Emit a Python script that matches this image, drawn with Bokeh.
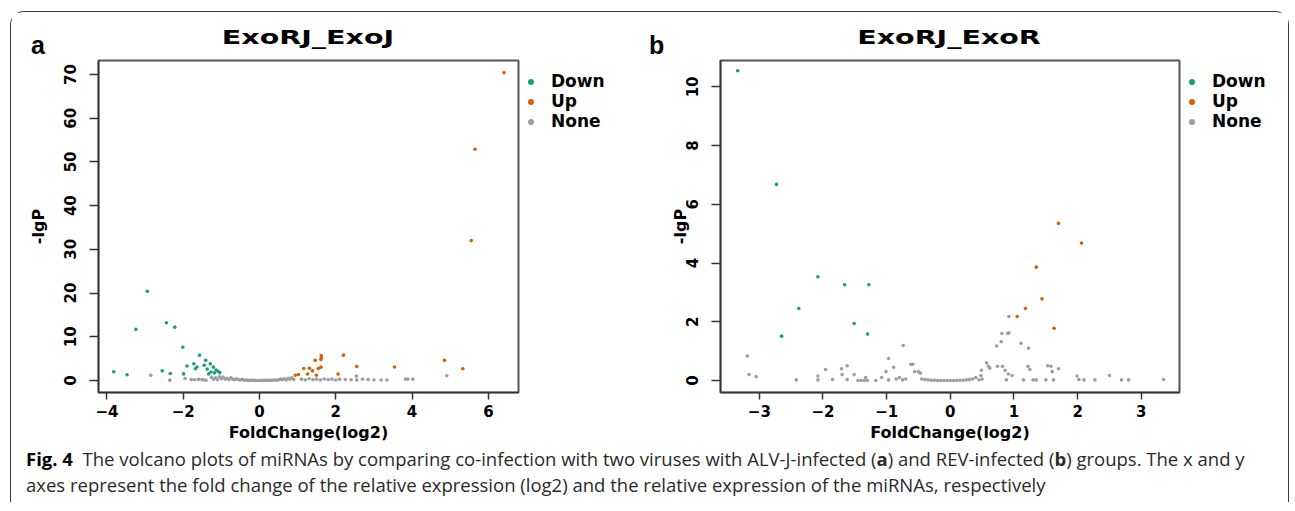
from bokeh.plotting import figure
from bokeh.models import (Range1d, FixedTicker, CustomJSTickFormatter, Legend, LegendItem, Div)
from bokeh.layouts import row, column
from bokeh.embed import file_html
from bokeh.resources import INLINE

# ---------------- data: panel a (ExoRJ_ExoJ) ----------------
a_down_x = [-3.82, -3.47, -3.24, -2.94, -2.55, -2.44, -2.34, -2.22, -2.01, -1.99,
            -1.90, -1.72, -1.68, -1.64, -1.57, -1.45, -1.41, -1.37, -1.33, -1.29,
            -1.27, -1.21, -1.18, -1.14, -1.09, -1.04]
a_down_y = [1.99, 1.3, 11.7, 20.4, 2.2, 13.2, 1.6, 12.2, 7.6, 1.5,
            3.3, 3.8, 2.7, 3.1, 5.8, 3.5, 4.6, 2.6, 1.5, 3.8,
            1.95, 3.05, 1.75, 2.4, 2.1, 1.8]
a_up_x = [0.94, 1.02, 1.16, 1.26, 1.31, 1.39, 1.46, 1.49, 1.54, 1.61,
          1.61, 1.62, 1.62, 2.06, 2.20, 2.55, 3.54, 4.85, 5.33, 5.55,
          5.65, 6.41]
a_up_y = [1.2, 1.37, 2.75, 1.5, 2.8, 2.2, 4.6, 1.2, 2.75, 3.05,
          4.8, 5.7, 5.2, 1.5, 5.8, 3.2, 3.1, 4.6, 2.7, 32.0,
          52.9, 70.4]
a_none_x = [-2.85, -2.35, -1.95, -1.79, -1.70, -1.60, -1.51, -1.45, -1.40,
            -1.26, -1.20, -1.15, -1.10, -1.05, -1.00, -0.95, -0.90, -0.85, -0.80,
            -0.75, -0.70, -0.65, -0.60, -0.55, -0.50, -0.45, -0.40, -0.35, -0.30,
            -0.20, -0.10, 0.00, 0.10, 0.20, 0.30, 0.40, 0.50, 0.55, 0.60,
            0.65, 0.70, 0.75, 0.80, 0.85, 0.90, 1.10, 1.20, 1.30, 1.40,
            1.50, 1.60, 1.70, 1.80, 1.90, 2.00, 2.10, 2.25, 2.40, 2.54,
            2.55, 2.70, 2.85, 3.00, 3.19, 3.34, 3.83, 3.89, 4.02, 4.91,
            -0.25, -0.15, -0.05, 0.05, 0.15, 0.25, 0.35, 0.45]
a_none_y = [1.2, 0.07, 0.45, 0.2, 0.15, 0.25, 0.2, 0.1, 0.05,
            0.7, 0.3, 0.6, 0.2, 0.9, 0.4, 0.8, 0.3, 0.5, 0.2,
            0.6, 0.3, 0.15, 0.4, 0.2, 0.1, 0.25, 0.05, 0.1, 0.02,
            0.05, 0.01, 0.0, 0.02, 0.05, 0.03, 0.1, 0.15, 0.3, 0.2,
            0.4, 0.1, 0.5, 0.3, 0.6, 0.2, 0.3, 0.1, 0.4, 0.2,
            0.3, 0.1, 0.35, 0.2, 0.3, 0.1, 0.3, 0.2, 0.15, 1.0,
            0.1, 0.3, 0.2, 0.1, 0.1, 0.1, 0.3, 0.35, 0.3, 1.07,
            0.03, 0.02, 0.0, 0.01, 0.02, 0.04, 0.06, 0.08]
a_xticks = [-4, -2, 0, 2, 4, 6]
a_yticks = [0, 10, 20, 30, 40, 50, 60, 70]

# ---------------- data: panel b (ExoRJ_ExoR) ----------------
b_down_x = [-3.34, -2.73, -2.65, -2.38, -2.08, -1.66, -1.51, -1.30, -1.28]
b_down_y = [10.55, 6.68, 1.51, 2.45, 3.53, 3.26, 1.94, 1.58, 3.26]
b_up_x = [1.05, 1.18, 1.35, 1.44, 1.63, 1.70, 2.06]
b_up_y = [2.18, 2.45, 3.86, 2.78, 1.78, 5.35, 4.68]
b_none_x = [0.92, 0.81, 0.90, 0.92, 0.80, 0.73, 1.11, 1.23, -0.74, -3.19,
            -3.16, -3.05, -2.42, -2.08, -2.08, -1.96, -1.85, -1.71, -1.70, -1.62,
            -1.62, -1.51, -1.45, -1.40, -1.35, -1.30, -1.33, -1.17, -1.08, -1.01,
            -0.97, -0.97, -0.89, -0.85, -0.80, -0.75, -0.70, -0.62, -0.59, -0.56,
            -0.50, -0.47, -0.45, -0.40, -0.35, -0.30, -0.25, -0.20, -0.15, -0.10,
            -0.05, 0.00, 0.05, 0.10, 0.15, 0.20, 0.25, 0.30, 0.35, 0.40,
            0.45, 0.48, 0.49, 0.57, 0.60, 0.62, 0.50, 0.74, 0.82, 0.86,
            0.91, 0.97, 1.22, 1.25, 0.88, 1.15, 1.30, 1.35, 1.50, 1.53,
            1.62, 1.58, 1.60, 1.70, 1.99, 2.02, 2.10, 2.27, 2.50, 2.69,
            2.80, 3.35]
b_none_y = [2.18, 1.6, 1.6, 1.62, 1.32, 1.17, 1.27, 1.1, 1.19, 0.83,
            0.2, 0.13, 0.02, 0.15, 0.02, 0.37, 0.03, 0.4, 0.2, 0.5,
            0.03, 0.2, 0.0, 0.0, 0.0, 0.0, 0.1, 0.0, 0.1, 0.3,
            0.75, 0.02, 0.45, 0.05, 0.1, 0.02, 0.05, 0.55, 0.55, 0.3,
            0.3, 0.25, 0.05, 0.03, 0.02, 0.01, 0.01, 0.0, 0.0, 0.0,
            0.0, 0.0, 0.0, 0.0, 0.01, 0.01, 0.02, 0.03, 0.05, 0.1,
            0.02, 0.17, 0.35, 0.6, 0.48, 0.42, 0.05, 0.48, 0.48, 0.35,
            0.22, 0.17, 0.48, 0.37, 0.02, 0.02, 0.02, 0.02, 0.02, 0.5,
            0.02, 0.48, 0.3, 0.4, 0.15, 0.03, 0.02, 0.02, 0.17, 0.02,
            0.02, 0.03]
b_xticks = [-3, -2, -1, 0, 1, 2, 3]
b_yticks = [0, 2, 4, 6, 8, 10]

categories = ["Down", "Up", "None"]
colors = {"Down": "#1B9E77", "Up": "#D95F02", "None": "#9E9E9E"}
titles = ["ExoRJ_ExoJ", "ExoRJ_ExoR"]
panel_letters = ["a", "b"]
caption_line1 = ("The volcano plots of miRNAs by comparing co-infection with two viruses with "
                 "ALV-J-infected (<b>a</b>) and REV-infected (<b>b</b>) groups. The x and y")
caption_line2 = ("axes represent the fold change of the relative expression (log2) and the "
                 "relative expression of the miRNAs, respectively")

FONT = "DejaVu Sans"
FIG_H = 434
B_TOP = 48
B_BOTTOM = 54


def panel(xr, yr, xticks, yticks, series, width, b_left, ylab_standoff):
    p = figure(width=width, height=FIG_H,
               min_border_left=b_left, min_border_right=2,
               min_border_top=B_TOP, min_border_bottom=B_BOTTOM,
               x_range=Range1d(*xr), y_range=Range1d(*yr),
               output_backend="svg", toolbar_location=None)
    p.grid.visible = False
    p.outline_line_color = "#555555"
    p.outline_line_width = 2
    p.border_fill_color = "white"
    p.background_fill_color = "white"

    for name in ["None", "Down", "Up"]:
        xs, ys = series[name]
        p.scatter(xs, ys, size=3.6, fill_color=colors[name], line_color=None)

    fmt = CustomJSTickFormatter(code="return tick < 0 ? '\u2212' + Math.abs(tick) : '' + tick;")
    for ax in (p.xaxis[0], p.yaxis[0]):
        ax.axis_line_color = "#333333"
        ax.axis_line_width = 1.5
        ax.major_tick_line_color = "#333333"
        ax.major_tick_line_width = 1.5
        ax.minor_tick_line_color = None
        ax.major_tick_in = 0
        ax.major_label_text_font = FONT
        ax.major_label_text_font_style = "bold"
        ax.major_label_text_font_size = "15px"
        ax.major_label_text_color = "black"
        ax.axis_label_text_font = FONT
        ax.axis_label_text_font_style = "bold"
        ax.axis_label_text_font_size = "16px"
        ax.axis_label_text_color = "black"
        ax.formatter = fmt
    p.xaxis.ticker = FixedTicker(ticks=xticks)
    p.yaxis.ticker = FixedTicker(ticks=yticks)
    p.xaxis.major_tick_out = 7
    p.yaxis.major_tick_out = 9
    p.xaxis.major_label_standoff = 5
    p.yaxis.major_label_standoff = 13
    p.yaxis.major_label_orientation = "vertical"
    p.xaxis.axis_label = "FoldChange(log2)"
    p.yaxis.axis_label = "-lgP"
    p.xaxis.axis_label_standoff = 3
    p.yaxis.axis_label_standoff = ylab_standoff
    return p


def legend_fig(width, series):
    lf = figure(width=width, height=FIG_H, min_border_left=0, min_border_right=0,
                min_border_top=B_TOP, min_border_bottom=B_BOTTOM,
                x_range=Range1d(0, 1), y_range=Range1d(0, 1),
                x_axis_type=None, y_axis_type=None,
                output_backend="svg", toolbar_location=None)
    lf.grid.visible = False
    lf.outline_line_color = None
    lf.border_fill_color = "white"
    lf.background_fill_color = "white"
    items = []
    for name in categories:
        xs, ys = series[name]
        # legend key renderer: same series, hidden (only its legend glyph is shown)
        r = lf.scatter(xs, ys, size=6, fill_color=colors[name], line_color=None, visible=False)
        items.append(LegendItem(label=name, renderers=[r]))
    frame_h = FIG_H - B_TOP - B_BOTTOM
    leg = Legend(items=items, location=(3, frame_h - 11 - 60), orientation="vertical",
                 padding=0, margin=0, spacing=0,
                 glyph_width=15, glyph_height=19, label_height=19, label_standoff=13,
                 label_text_font=FONT, label_text_font_style="bold",
                 label_text_font_size="17px", label_text_color="black",
                 inactive_fill_alpha=0, click_policy="none",
                 border_line_color=None, background_fill_alpha=0)
    lf.add_layout(leg)
    return lf


series_a = {"Down": (a_down_x, a_down_y), "Up": (a_up_x, a_up_y), "None": (a_none_x, a_none_y)}
series_b = {"Down": (b_down_x, b_down_y), "Up": (b_up_x, b_up_y), "None": (b_none_x, b_none_y)}

pa = panel((-4.22, 6.79), (-2.75, 73.2), a_xticks, a_yticks, series_a, 509, 87, 14)
la = legend_fig(126, series_a)
pb = panel((-3.61, 3.60), (-0.41, 10.9), b_xticks, b_yticks, series_b, 535, 74, -6)
lb = legend_fig(107, series_b)

caption = Div(
    text=('<div style="font-family:\'Open Sans\'; font-size:18.5px; line-height:26px; '
          'color:#2a2a2a; white-space:nowrap; padding-left:15px;">'
          '<b style="color:#000">Fig.&nbsp;4</b>&nbsp; ' + caption_line1 + '<br>' + caption_line2 + '</div>'),
    width=1275, height=56, margin=0)

letter_style = {"position": "absolute", "font-family": "Liberation Sans", "font-weight": "bold",
                "font-size": "25px", "line-height": "25px", "color": "black"}
letter_a = Div(text=panel_letters[0], width=20, height=28, margin=0,
               styles=dict(letter_style, left="20px", top="21px"))
letter_b = Div(text=panel_letters[1], width=20, height=28, margin=0,
               styles=dict(letter_style, left="638px", top="21px"))

title_style = {"position": "absolute", "font-family": FONT, "font-weight": "bold",
               "font-size": "19px", "line-height": "19px", "color": "black",
               "text-align": "center", "white-space": "nowrap",
               "transform": "scaleX(1.5)", "transform-origin": "center"}
title_a = Div(text=titles[0], width=300, height=22, margin=0,
              styles=dict(title_style, left="147px", top="16px"))
title_b = Div(text=titles[1], width=300, height=22, margin=0,
              styles=dict(title_style, left="788px", top="16px"))

layout = column(
    row(pa, la, pb, lb),
    caption,
    letter_a, letter_b, title_a, title_b,
    styles={"position": "relative", "left": "10px", "top": "11px",
            "border-top": "1.5px solid #3a3a3a", "border-left": "1.5px solid #3a3a3a",
            "border-right": "1.5px solid #3a3a3a",
            "border-top-left-radius": "14px", "border-top-right-radius": "14px"})

with open("out.html", "w") as f:
    f.write(file_html(layout, INLINE))
